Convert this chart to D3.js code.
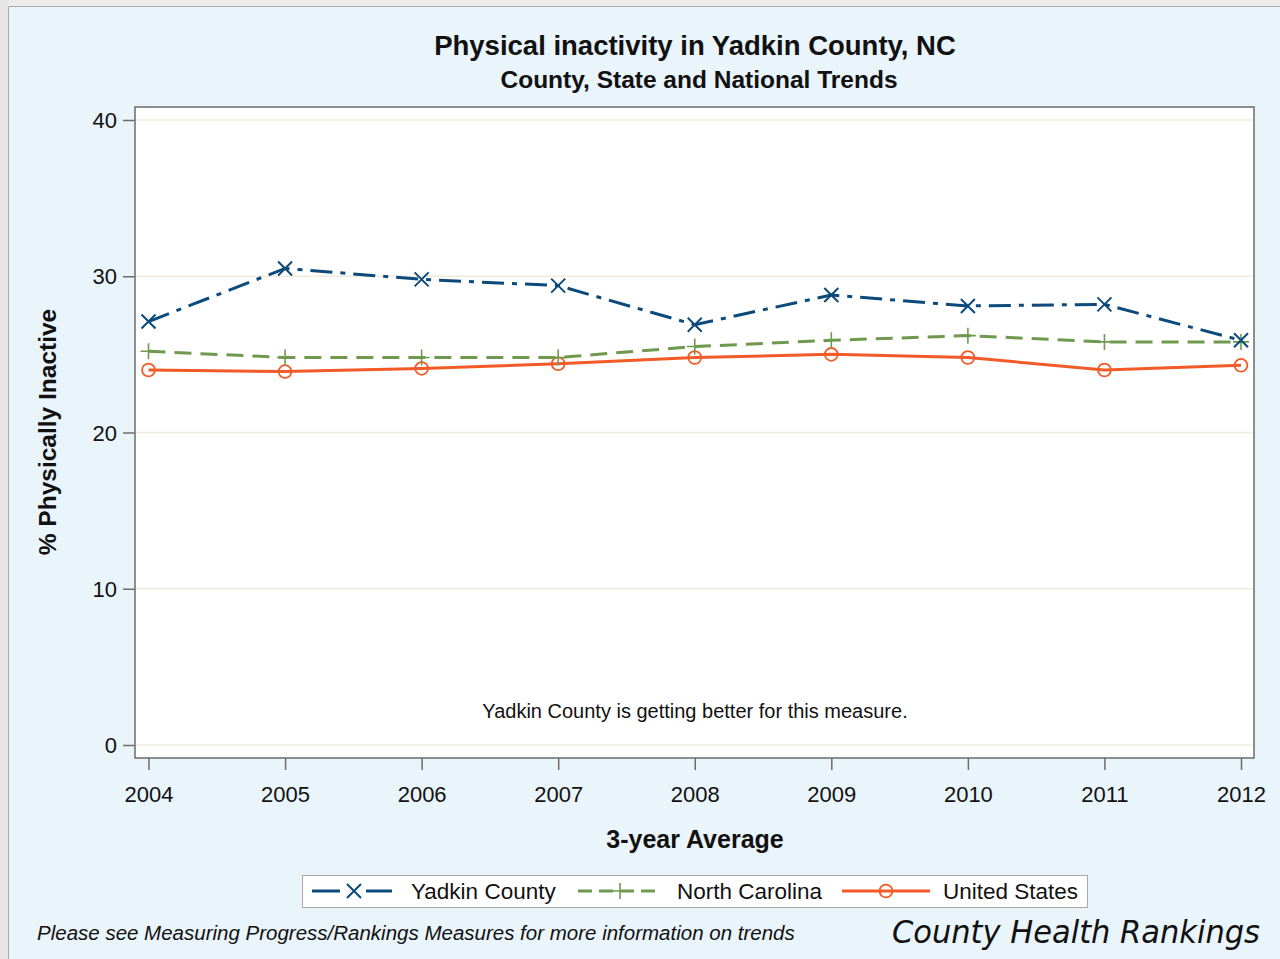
<!DOCTYPE html>
<html><head><meta charset="utf-8">
<script src="https://cdn.jsdelivr.net/npm/d3@7"></script>
<style>
html,body{margin:0;padding:0;background:#eaf4fb;}
svg{display:block;font-family:"Liberation Sans",Arial,sans-serif;}
</style></head>
<body>
<svg id="chart" width="1280" height="959"></svg>
<script>
const years = [2004,2005,2006,2007,2008,2009,2010,2011,2012];
const yadkin = [27.1,30.5,29.8,29.4,26.9,28.8,28.1,28.2,25.9];
const northCarolina = [25.2,24.8,24.8,24.8,25.5,25.9,26.2,25.8,25.8];
const unitedStates = [24.0,23.9,24.1,24.4,24.8,25.0,24.8,24.0,24.3];
const yTicks = [0,10,20,30,40];
const seriesNames = ["Yadkin County","North Carolina","United States"];

const svg = d3.select("#chart");
// frame
svg.append("rect").attr("x",0).attr("y",0).attr("width",1280).attr("height",959).attr("fill","#eaf4fb");
svg.append("rect").attr("x",0).attr("y",0).attr("width",1280).attr("height",6).attr("fill","#ececec");
svg.append("rect").attr("x",0).attr("y",0).attr("width",8).attr("height",959).attr("fill","#e6e6e6");
svg.append("line").attr("x1",8.5).attr("x2",1280).attr("y1",6.5).attr("y2",6.5).attr("stroke","#a9a9a9").attr("stroke-width",1);
svg.append("line").attr("x1",8.5).attr("x2",8.5).attr("y1",6.5).attr("y2",959).attr("stroke","#a9a9a9").attr("stroke-width",1);

const plot = {l:135, r:1254, t:107, b:758};
const x = d3.scalePoint().domain(years).range([148.5,1241]);
const y = d3.scaleLinear().domain([0,40]).range([745,120]);

svg.append("rect").attr("x",plot.l).attr("y",plot.t).attr("width",plot.r-plot.l).attr("height",plot.b-plot.t)
  .attr("fill","#fff").attr("stroke","#6b6b6b").attr("stroke-width",1.5);

// grid
svg.append("g").selectAll("line").data(yTicks).join("line")
  .attr("x1",plot.l+1).attr("x2",plot.r-1).attr("y1",d=>y(d)).attr("y2",d=>y(d))
  .attr("stroke","#efebdc").attr("stroke-width",1.5);

// y axis
const yAxis = svg.append("g").attr("transform",`translate(${plot.l},0)`)
  .call(d3.axisLeft(y).tickValues(yTicks).tickSize(12).tickPadding(6));
yAxis.select(".domain").remove();
yAxis.selectAll(".tick line").attr("stroke","#6b6b6b").attr("stroke-width",1.5);
yAxis.selectAll(".tick text").attr("font-size",22).attr("fill","#111").attr("font-family","Liberation Sans, Arial, sans-serif").attr("dy","0.35em");

// x axis
const xAxis = svg.append("g").attr("transform",`translate(0,${plot.b})`)
  .call(d3.axisBottom(x).tickSize(12).tickPadding(16).tickFormat(d3.format("d")));
xAxis.select(".domain").remove();
xAxis.selectAll(".tick line").attr("stroke","#6b6b6b").attr("stroke-width",1.5);
xAxis.selectAll(".tick text").attr("font-size",22).attr("fill","#111").attr("font-family","Liberation Sans, Arial, sans-serif");

// titles
svg.append("text").attr("x",695).attr("y",55).attr("text-anchor","middle").attr("font-size",27.5).attr("font-weight","bold").attr("fill","#111").text("Physical inactivity in Yadkin County, NC");
svg.append("text").attr("x",699).attr("y",88).attr("text-anchor","middle").attr("font-size",24.5).attr("font-weight","bold").attr("fill","#111").text("County, State and National Trends");
svg.append("text").attr("transform","translate(56,432) rotate(-90)").attr("text-anchor","middle").attr("font-size",24.5).attr("font-weight","bold").attr("fill","#111").text("% Physically Inactive");
svg.append("text").attr("x",695).attr("y",848).attr("text-anchor","middle").attr("font-size",25).attr("font-weight","bold").attr("fill","#111").text("3-year Average");
svg.append("text").attr("x",695).attr("y",718).attr("text-anchor","middle").attr("font-size",20).attr("fill","#111").text("Yadkin County is getting better for this measure.");

const colors = ["#0b4a7a","#6f9a4e","#f25a28"];
const dashes = ["22,8,5,8","17,9",null];
const data = [yadkin,northCarolina,unitedStates];
const line = d3.line().x((d,i)=>x(years[i])).y(d=>y(d));

function marker(g, type, cx, cy, color){
  if(type===0){
    const s=7;
    g.append("path").attr("d",`M${cx-s},${cy-s}L${cx+s},${cy+s}M${cx-s},${cy+s}L${cx+s},${cy-s}`).attr("stroke",color).attr("stroke-width",2).attr("fill","none");
  } else if(type===1){
    const s=8;
    g.append("path").attr("d",`M${cx-s},${cy}L${cx+s},${cy}M${cx},${cy-s}L${cx},${cy+s}`).attr("stroke",color).attr("stroke-width",1.6).attr("fill","none");
  } else {
    g.append("circle").attr("cx",cx).attr("cy",cy).attr("r",6.4).attr("fill","none").attr("stroke",color).attr("stroke-width",1.8);
  }
}

[2,1,0].forEach(k=>{
  const g = svg.append("g");
  g.append("path").datum(data[k]).attr("d",line).attr("fill","none").attr("stroke",colors[k])
    .attr("stroke-width",3).attr("stroke-dasharray",dashes[k]);
  data[k].forEach((v,i)=>marker(g,k,x(years[i]),y(v),colors[k]));
});

// legend
const lg = svg.append("g");
lg.append("rect").attr("x",302.5).attr("y",875.5).attr("width",785).attr("height",32).attr("fill","#fff").attr("stroke","#a8a8a8").attr("stroke-width",1);
const legItems = [
  {x1:312,x2:392,mx:354,tx:411},
  {x1:578,x2:662,mx:620,tx:677},
  {x1:842,x2:930,mx:886,tx:943}
];
legItems.forEach((it,k)=>{
  const ly=891;
  if(k===0){
    lg.append("line").attr("x1",312).attr("x2",340).attr("y1",ly).attr("y2",ly).attr("stroke",colors[k]).attr("stroke-width",3);
    lg.append("line").attr("x1",366).attr("x2",392).attr("y1",ly).attr("y2",ly).attr("stroke",colors[k]).attr("stroke-width",3);
  } else if(k===1){
    lg.append("line").attr("x1",it.x1).attr("x2",it.x2).attr("y1",ly).attr("y2",ly).attr("stroke",colors[k]).attr("stroke-width",3).attr("stroke-dasharray","14,7,14,7,14,7,14,7,6,100");
  } else {
    lg.append("line").attr("x1",it.x1).attr("x2",it.x2).attr("y1",ly).attr("y2",ly).attr("stroke",colors[k]).attr("stroke-width",3);
  }
  marker(lg,k,it.mx,ly,colors[k]);
  lg.append("text").attr("x",it.tx).attr("y",ly+8).attr("font-size",22.5).attr("fill","#111").text(seriesNames[k]);
});

// footer
svg.append("text").attr("x",37).attr("y",940).attr("font-size",20.5).attr("font-style","italic").attr("fill","#111").text("Please see Measuring Progress/Rankings Measures for more information on trends");
svg.append("text").attr("x",1260).attr("y",943).attr("text-anchor","end").attr("font-size",32).attr("font-style","italic")
  .attr("font-family","DejaVu Sans, sans-serif").attr("textLength",368).attr("lengthAdjust","spacingAndGlyphs").attr("fill","#111").text("County Health Rankings");
</script>
</body></html>
